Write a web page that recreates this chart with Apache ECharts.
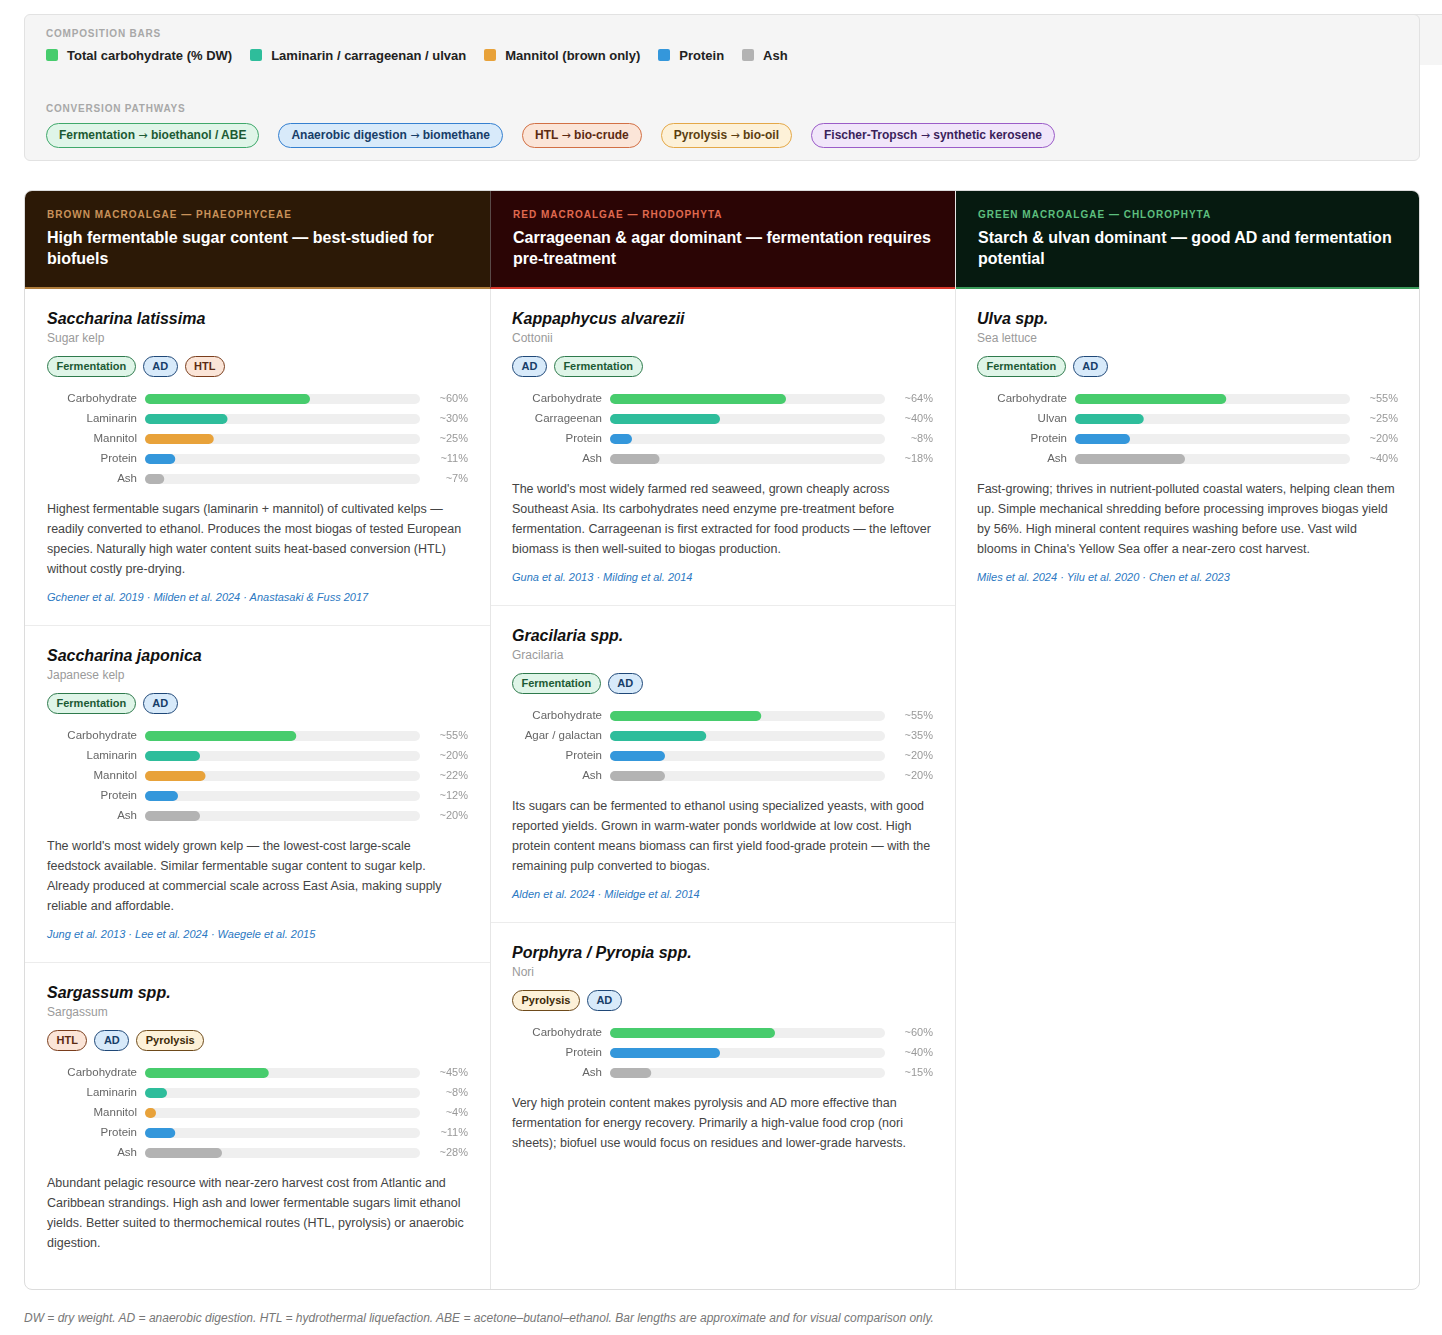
<!DOCTYPE html>
<html>
<head>
<meta charset="utf-8">
<script src="https://cdn.jsdelivr.net/npm/echarts@6/dist/echarts.min.js"></script>
<style>
  * { box-sizing: border-box; }
  body { margin: 0; background: #fff; font-family: "Liberation Sans", Arial, sans-serif; color: #222; width: 1442px; height: 1335px; position: relative; overflow: hidden; }
  .legend { position: absolute; left: 24px; top: 14px; width: 1396px; height: 147px; background: #f5f5f5; border: 1px solid #e2e2e2; border-radius: 6px; padding: 12px 21px 0 21px; }
  .legend-ext { position: absolute; left: 1414px; top: 14px; width: 28px; height: 51px; background: #f5f5f5; border-top: 1px solid #e2e2e2; }
  .cap { font-size: 10px; line-height: 14px; font-weight: bold; letter-spacing: 0.8px; color: #a8a8a8; }
  .keys { margin-top: 5px; display: flex; height: 18px; align-items: center; }
  .key { display: flex; align-items: center; font-size: 13px; font-weight: bold; color: #222; margin-right: 18px; }
  .key i { width: 12px; height: 12px; border-radius: 2px; margin-right: 9px; display: inline-block; }
  .paths { margin-top: 7px; display: flex; gap: 19px; }
  .pill { height: 25px; border: 1.5px solid; border-radius: 13px; padding: 0 12px; font-size: 12px; font-weight: bold; line-height: 22px; white-space: nowrap; }
  .arr { font-family: "DejaVu Sans", sans-serif; font-weight: normal; font-size: 11px; }
  .ferm { background: #dff5e8; border-color: #3fa86a; color: #1c5a34; }
  .ad { background: #d8eafa; border-color: #3580d0; color: #173d68; }
  .htl { background: #fbe5d8; border-color: #d27045; color: #5b2a12; }
  .pyro { background: #fdf1d8; border-color: #e4a848; color: #5b3e10; }
  .ft { background: #f1e6fa; border-color: #9b5cc8; color: #3b1f5a; }

  .panel { position: absolute; left: 24px; top: 190px; width: 1396px; height: 1100px; border: 1px solid #dcdcdc; border-radius: 8px; overflow: hidden; display: grid; grid-template-columns: 1fr 1fr 1fr; }
  .col { border-left: 1px solid #e6e6e6; }
  .col:first-child { border-left: none; }
  .head { height: 98px; padding: 17px 22px 0 22px; border-bottom: 2px solid; }
  .head .kick { font-size: 10px; line-height: 14px; font-weight: bold; letter-spacing: 1px; }
  .head h2 { margin: 5px 0 0 0; font-size: 16px; line-height: 21px; font-weight: bold; color: #fff; }
  .brown .head { background: #2c1906; border-color: #b07d3c; }
  .brown .kick { color: #c9925a; }
  .red .head { background: #2b0505; border-color: #d9382b; }
  .red .kick { color: #e06a50; }
  .green .head { background: #061a10; border-color: #3a9b5a; }
  .green .kick { color: #5dbf7e; }
  .col.red .head { border-left: 1px solid #5a4a48; margin-left: -1px; }

  .card { padding: 20px 23px 20px 21px; border-bottom: 1px solid #ececec; }
  .brown .card { padding-left: 22px; padding-right: 24px; }
  .card:last-child { border-bottom: none; }
  .card h3 { margin: 0; font-size: 16px; line-height: 20px; font-weight: bold; font-style: italic; color: #111; }
  .common { margin-top: 1px; font-size: 12px; line-height: 16px; color: #9a9a9a; }
  .tags { margin-top: 10px; display: flex; gap: 7px; height: 21px; }
  .tag { height: 21px; border: 1.5px solid; border-radius: 11px; padding: 0 8.5px; font-size: 11px; font-weight: bold; line-height: 18px; white-space: nowrap; }
  .tag.ferm { border-color: #2e7a4c; }
  .tag.ad { border-color: #1f4878; }
  .tag.htl { border-color: #7a3d1c; }
  .tag.pyro { border-color: #6e4a1a; color: #3e2a08; }
  .bars { margin-top: 12px; width: calc(100% + 8px); margin-right: -8px; }
  .desc { margin-top: 10px; font-size: 12.5px; line-height: 20px; color: #444; }
  .refs { margin-top: 10px; font-size: 11px; line-height: 16px; font-style: italic; color: #2b78c2; }
  .foot { position: absolute; left: 24px; top: 1311px; font-size: 12px; font-style: italic; color: #777; }
</style>
</head>
<body>

<div class="legend-ext"></div>
<div class="legend">
  <div class="cap">COMPOSITION BARS</div>
  <div class="keys">
    <span class="key"><i style="background:#47cc6d"></i>Total carbohydrate (% DW)</span>
    <span class="key"><i style="background:#2ebd9b"></i>Laminarin / carrageenan / ulvan</span>
    <span class="key"><i style="background:#e8a23a"></i>Mannitol (brown only)</span>
    <span class="key"><i style="background:#3497db"></i>Protein</span>
    <span class="key"><i style="background:#b3b3b3"></i>Ash</span>
  </div>
  <div class="cap" style="margin-top:38px">CONVERSION PATHWAYS</div>
  <div class="paths">
    <span class="pill ferm">Fermentation <span class="arr">→</span> bioethanol / ABE</span>
    <span class="pill ad">Anaerobic digestion <span class="arr">→</span> biomethane</span>
    <span class="pill htl">HTL <span class="arr">→</span> bio-crude</span>
    <span class="pill pyro">Pyrolysis <span class="arr">→</span> bio-oil</span>
    <span class="pill ft">Fischer-Tropsch <span class="arr">→</span> synthetic kerosene</span>
  </div>
</div>

<div class="panel">
  <div class="col brown">
    <div class="head">
      <div class="kick">BROWN MACROALGAE — PHAEOPHYCEAE</div>
      <h2>High fermentable sugar content — best-studied for biofuels</h2>
    </div>
    <div class="card">
      <h3>Saccharina latissima</h3>
      <div class="common">Sugar kelp</div>
      <div class="tags"><span class="tag ferm">Fermentation</span><span class="tag ad">AD</span><span class="tag htl">HTL</span></div>
      <div class="bars" id="bars-latissima"></div>
      <div class="desc">Highest fermentable sugars (laminarin + mannitol) of cultivated kelps — readily converted to ethanol. Produces the most biogas of tested European species. Naturally high water content suits heat-based conversion (HTL) without costly pre-drying.</div>
      <div class="refs">Gchener et al. 2019 · Milden et al. 2024 · Anastasaki &amp; Fuss 2017</div>
    </div>
    <div class="card">
      <h3>Saccharina japonica</h3>
      <div class="common">Japanese kelp</div>
      <div class="tags"><span class="tag ferm">Fermentation</span><span class="tag ad">AD</span></div>
      <div class="bars" id="bars-japonica"></div>
      <div class="desc">The world's most widely grown kelp — the lowest-cost large-scale feedstock available. Similar fermentable sugar content to sugar kelp. Already produced at commercial scale across East Asia, making supply reliable and affordable.</div>
      <div class="refs">Jung et al. 2013 · Lee et al. 2024 · Waegele et al. 2015</div>
    </div>
    <div class="card">
      <h3>Sargassum spp.</h3>
      <div class="common">Sargassum</div>
      <div class="tags"><span class="tag htl">HTL</span><span class="tag ad">AD</span><span class="tag pyro">Pyrolysis</span></div>
      <div class="bars" id="bars-sargassum"></div>
      <div class="desc">Abundant pelagic resource with near-zero harvest cost from Atlantic and Caribbean strandings. High ash and lower fermentable sugars limit ethanol yields. Better suited to thermochemical routes (HTL, pyrolysis) or anaerobic digestion.</div>
    </div>
  </div>

  <div class="col red">
    <div class="head">
      <div class="kick">RED MACROALGAE — RHODOPHYTA</div>
      <h2>Carrageenan &amp; agar dominant — fermentation requires pre-treatment</h2>
    </div>
    <div class="card">
      <h3>Kappaphycus alvarezii</h3>
      <div class="common">Cottonii</div>
      <div class="tags"><span class="tag ad">AD</span><span class="tag ferm">Fermentation</span></div>
      <div class="bars" id="bars-kappaphycus"></div>
      <div class="desc">The world's most widely farmed red seaweed, grown cheaply across Southeast Asia. Its carbohydrates need enzyme pre-treatment before fermentation. Carrageenan is first extracted for food products — the leftover biomass is then well-suited to biogas production.</div>
      <div class="refs">Guna et al. 2013 · Milding et al. 2014</div>
    </div>
    <div class="card">
      <h3>Gracilaria spp.</h3>
      <div class="common">Gracilaria</div>
      <div class="tags"><span class="tag ferm">Fermentation</span><span class="tag ad">AD</span></div>
      <div class="bars" id="bars-gracilaria"></div>
      <div class="desc">Its sugars can be fermented to ethanol using specialized yeasts, with good reported yields. Grown in warm-water ponds worldwide at low cost. High protein content means biomass can first yield food-grade protein — with the remaining pulp converted to biogas.</div>
      <div class="refs">Alden et al. 2024 · Mileidge et al. 2014</div>
    </div>
    <div class="card">
      <h3>Porphyra / Pyropia spp.</h3>
      <div class="common">Nori</div>
      <div class="tags"><span class="tag pyro">Pyrolysis</span><span class="tag ad">AD</span></div>
      <div class="bars" id="bars-porphyra"></div>
      <div class="desc">Very high protein content makes pyrolysis and AD more effective than fermentation for energy recovery. Primarily a high-value food crop (nori sheets); biofuel use would focus on residues and lower-grade harvests.</div>
    </div>
  </div>

  <div class="col green">
    <div class="head">
      <div class="kick">GREEN MACROALGAE — CHLOROPHYTA</div>
      <h2>Starch &amp; ulvan dominant — good AD and fermentation potential</h2>
    </div>
    <div class="card">
      <h3>Ulva spp.</h3>
      <div class="common">Sea lettuce</div>
      <div class="tags"><span class="tag ferm">Fermentation</span><span class="tag ad">AD</span></div>
      <div class="bars" id="bars-ulva"></div>
      <div class="desc">Fast-growing; thrives in nutrient-polluted coastal waters, helping clean them up. Simple mechanical shredding before processing improves biogas yield by 56%. High mineral content requires washing before use. Vast wild blooms in China's Yellow Sea offer a near-zero cost harvest.</div>
      <div class="refs">Miles et al. 2024 · Yilu et al. 2020 · Chen et al. 2023</div>
    </div>
  </div>
</div>

<div class="foot">DW = dry weight. AD = anaerobic digestion. HTL = hydrothermal liquefaction. ABE = acetone–butanol–ethanol. Bar lengths are approximate and for visual comparison only.</div>

<script>
// composition rows (% dry weight, approximate)
var latissimaRows = ['Carbohydrate', 'Laminarin', 'Mannitol', 'Protein', 'Ash'];
var latissimaValues = [60, 30, 25, 11, 7];

var japonicaRows = ['Carbohydrate', 'Laminarin', 'Mannitol', 'Protein', 'Ash'];
var japonicaValues = [55, 20, 22, 12, 20];

var sargassumRows = ['Carbohydrate', 'Laminarin', 'Mannitol', 'Protein', 'Ash'];
var sargassumValues = [45, 8, 4, 11, 28];

var kappaphycusRows = ['Carbohydrate', 'Carrageenan', 'Protein', 'Ash'];
var kappaphycusValues = [64, 40, 8, 18];

var gracilariaRows = ['Carbohydrate', 'Agar / galactan', 'Protein', 'Ash'];
var gracilariaValues = [55, 35, 20, 20];

var porphyraRows = ['Carbohydrate', 'Protein', 'Ash'];
var porphyraValues = [60, 40, 15];

var ulvaRows = ['Carbohydrate', 'Ulvan', 'Protein', 'Ash'];
var ulvaValues = [55, 25, 20, 40];

var FONT = '"Liberation Sans", Arial, sans-serif';

function barColor(name) {
    if (name == 'Carbohydrate') return '#47cc6d';
    if (name == 'Mannitol') return '#e8a23a';
    if (name == 'Protein') return '#3497db';
    if (name == 'Ash') return '#b3b3b3';
    return '#2ebd9b'; // laminarin / carrageenan / agar / ulvan
}

function drawBars(domId, rows, values) {
    var dom = document.getElementById(domId);
    dom.style.height = (rows.length * 20) + 'px';
    var chart = echarts.init(dom, null, { renderer: 'canvas' });

    var data = [];
    for (var i = 0; i < rows.length; i++) {
        data.push({ value: values[i], itemStyle: { color: barColor(rows[i]) } });
    }

    chart.setOption({
        animation: false,
        textStyle: { fontFamily: FONT },
        grid: { left: 98, width: 275, top: 0, bottom: 0 },
        xAxis: { type: 'value', min: 0, max: 100, show: false },
        yAxis: [
            {
                type: 'category', inverse: true, data: rows,
                axisLine: { show: false }, axisTick: { show: false },
                axisLabel: { interval: 0, margin: 8, color: '#666', fontSize: 11.5, fontFamily: FONT }
            },
            {
                type: 'category', inverse: true, position: 'right',
                data: values.map(function (v) { return '~' + v + '%'; }),
                axisLine: { show: false }, axisTick: { show: false },
                axisLabel: { interval: 0, margin: 48, align: 'right', color: '#999', fontSize: 11, fontFamily: FONT }
            }
        ],
        series: [{
            type: 'bar',
            data: data,
            barWidth: 10,
            itemStyle: { borderRadius: 5 },
            showBackground: true,
            backgroundStyle: { color: '#efefef', borderRadius: 5 }
        }]
    });
}

drawBars('bars-latissima', latissimaRows, latissimaValues);
drawBars('bars-japonica', japonicaRows, japonicaValues);
drawBars('bars-sargassum', sargassumRows, sargassumValues);
drawBars('bars-kappaphycus', kappaphycusRows, kappaphycusValues);
drawBars('bars-gracilaria', gracilariaRows, gracilariaValues);
drawBars('bars-porphyra', porphyraRows, porphyraValues);
drawBars('bars-ulva', ulvaRows, ulvaValues);
</script>
</body>
</html>
